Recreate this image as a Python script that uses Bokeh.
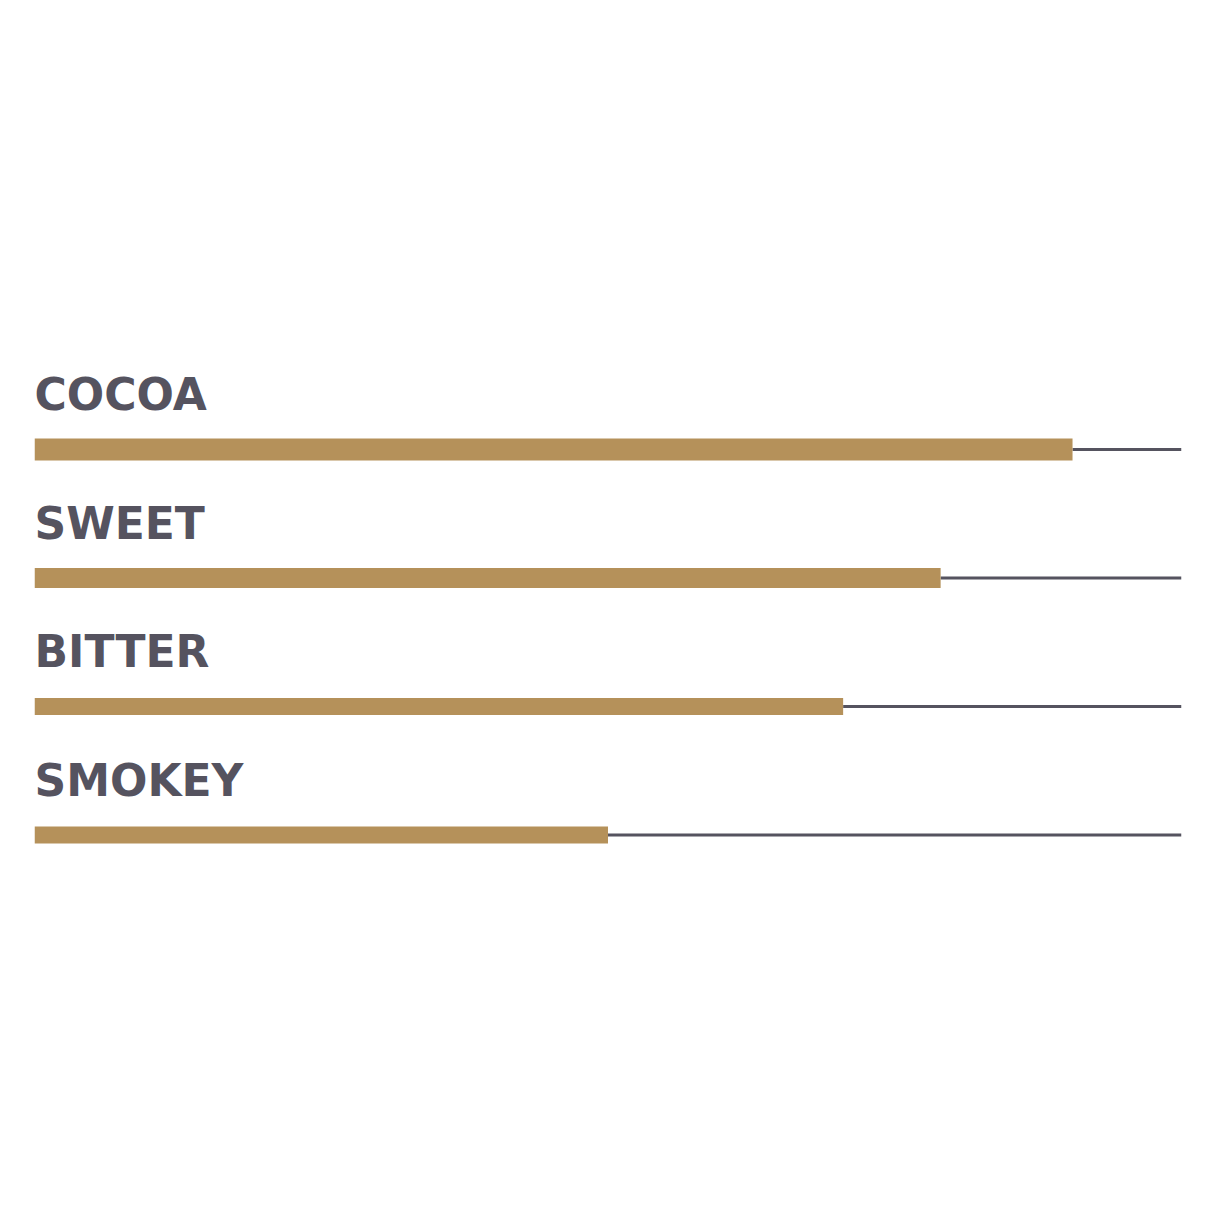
from bokeh.plotting import figure
from bokeh.models import ColumnDataSource, Range1d
from bokeh.core.properties import value
from bokeh.embed import file_html
from bokeh.resources import INLINE

# flavour profile data
flavours = ["COCOA", "SWEET", "BITTER", "SMOKEY"]
scores = [90.5, 79, 70.5, 50]
max_score = 100

GOLD = "#b5915a"
SLATE = "#55535f"

ROW_PX = 128.5          # vertical distance between rows
FIRST_ROW_PX = 449      # canvas position of first bar centre
W, H = 1198, 1198
bar_px = [22, 20, 17, 17]

rows = [-i for i in range(len(flavours))]
src = ColumnDataSource(dict(
    y=rows,
    name=flavours,
    score=scores,
    full=[max_score] * len(flavours),
    h=[b / ROW_PX for b in bar_px],
))

p = figure(
    width=W, height=H,
    output_backend="svg", toolbar_location=None,
    min_border_left=34, min_border_right=17,
    min_border_top=0, min_border_bottom=0,
    x_range=Range1d(0, max_score),
    y_range=Range1d(-(H - FIRST_ROW_PX) / ROW_PX, FIRST_ROW_PX / ROW_PX),
)
p.axis.visible = False
p.grid.visible = False
p.outline_line_color = None
p.background_fill_color = "white"
p.border_fill_color = "white"

# thin track behind the bar
p.segment(x0="score", y0="y", x1="full", y1="y", source=src,
          line_color=SLATE, line_width=3)
p.hbar(y="y", left=0, right="score", height="h", source=src,
       fill_color=GOLD, line_color=None)

p.text(x=0, y="y", text="name", source=src,
       text_font=value("DejaVu Sans"), text_font_size="44px",
       text_font_style="bold",
       text_color=SLATE, text_baseline="alphabetic", text_align="left",
       y_offset=-55)

open("out.html", "w").write(file_html(p, INLINE))
